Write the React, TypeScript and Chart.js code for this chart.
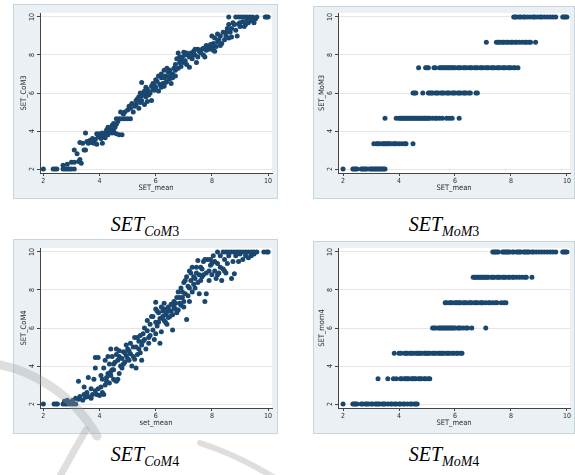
import React, { useEffect, useRef } from "react";
import { Chart, registerables } from "chart.js";
Chart.register(...registerables);

// ---------- data ----------
const xTicks = [2, 4, 6, 8, 10];
const yTicks = [2, 4, 6, 8, 10];

const com3X = [
  2.0, 2.35, 2.42, 2.48, 2.7, 2.78, 2.85, 2.92, 3.0, 3.1,
  2.7, 2.85, 3.0, 3.1, 3.25, 3.35, 3.3, 3.2, 3.1, 3.45,
  3.5, 3.3, 3.4, 3.5, 3.6, 3.7, 3.8, 3.9, 3.65, 3.75,
  3.85, 3.9, 4.0, 4.1, 3.95, 4.05, 4.15, 4.2, 4.3, 4.35,
  4.25, 4.4, 4.45, 4.55, 4.5, 4.6, 4.7, 4.8, 4.6, 4.1,
  4.6, 4.7, 4.8, 4.9, 5.0, 5.1, 4.75, 4.9, 5.0, 5.1,
  5.2, 5.25, 5.3, 5.4, 5.45, 5.35, 5.5, 5.6, 5.65, 5.7,
  5.75, 5.5, 5.45, 5.55, 5.65, 5.8, 5.85, 5.9, 5.95, 6.0,
  6.05, 6.1, 6.15, 6.2, 6.25, 6.3, 6.35, 6.4, 6.45, 6.5,
  6.55, 6.6, 6.65, 6.7, 6.3, 6.4, 6.2, 6.7, 6.75, 6.8,
  6.85, 6.9, 6.95, 7.0, 7.05, 7.1, 7.15, 7.2, 7.3, 7.35,
  7.4, 7.45, 7.5, 7.6, 7.7, 7.75, 7.8, 7.9, 8.0, 8.05,
  8.1, 8.2, 8.0, 8.1, 8.2, 8.3, 8.35, 8.4, 8.45, 8.5,
  8.55, 8.6, 8.65, 8.7, 8.8, 8.9, 8.95, 9.0, 9.1, 9.2,
  9.3, 9.4, 9.5, 9.55, 8.6, 8.85, 8.95, 9.05, 9.15, 9.25,
  9.35, 9.45, 9.6, 9.9, 9.95, 10.0,
  5.9, 6.0, 6.1, 6.2, 6.3, 6.35, 6.45, 6.5, 6.55, 6.6,
  6.7, 6.8, 6.85, 6.9, 7.0, 7.05, 7.1, 7.2, 7.25, 7.3,
  7.4, 7.5, 7.55, 7.65, 7.7, 7.8, 7.85, 7.95, 8.05, 8.15,
  8.25, 8.3, 8.5, 8.6, 8.7, 8.75, 8.85, 9.0, 9.15, 9.25,
  4.3, 4.45, 4.5, 4.65, 4.85, 5.05, 5.15, 5.3, 5.4, 5.5,
  5.6, 5.65, 5.7, 5.75, 5.85, 5.95, 3.55, 3.75, 4.0, 4.2,
];
const com3Y = [
  2, 2, 2, 2, 2, 2, 2, 2, 2, 2,
  2.2, 2.25, 2.35, 2.35, 2.4, 2.3, 2.5, 2.8, 3.0, 3.0,
  3.0, 3.4, 3.35, 3.9, 3.35, 3.4, 3.35, 3.3, 3.5, 3.6,
  3.55, 3.85, 3.85, 3.9, 3.7, 3.6, 3.75, 3.65, 3.8, 3.95,
  4.05, 4.1, 4.3, 4.2, 4.0, 4.35, 3.8, 3.8, 3.85, 3.35,
  4.65, 4.65, 4.65, 4.65, 4.65, 4.65, 5.0, 5.0, 5.1, 5.2,
  5.0, 5.3, 5.4, 5.2, 5.5, 5.7, 5.6, 5.4, 5.8, 5.55,
  5.9, 6.55, 6.0, 6.0, 6.0, 6.0, 5.6, 6.2, 6.4, 6.3,
  6.6, 6.1, 6.45, 6.8, 6.5, 6.35, 6.9, 6.6, 7.1, 6.75,
  6.5, 7.0, 7.3, 6.9, 7.2, 7.3, 7.0, 7.5, 7.8, 8.1,
  7.6, 7.4, 7.9, 8.15, 7.7, 7.5, 8.0, 7.35, 7.8, 8.2,
  8.0, 7.6, 8.3, 8.1, 8.35, 7.9, 8.5, 8.3, 8.4, 8.6,
  8.2, 8.7, 9.0, 8.9, 9.1, 9.0, 8.6, 9.2, 8.8, 9.0,
  9.4, 9.6, 9.2, 8.95, 9.6, 9.0, 9.65, 9.5, 9.75, 9.6,
  9.7, 9.8, 9.7, 9.9, 10, 10, 10, 10, 10, 10,
  10, 10, 10, 10, 10, 10,
  6.5, 6.7, 6.9, 6.3, 6.8, 6.55, 6.85, 7.2, 7.0, 6.8,
  7.2, 7.3, 7.9, 7.7, 7.6, 8.0, 8.1, 7.9, 8.1, 8.0,
  8.3, 7.9, 8.2, 8.3, 8.0, 8.25, 8.4, 8.55, 8.25, 8.45,
  8.8, 8.5, 9.2, 8.9, 9.4, 9.7, 9.3, 9.7, 9.5, 9.85,
  4.2, 3.9, 4.4, 4.5, 4.9, 5.3, 5.45, 5.6, 5.8, 5.85,
  6.1, 6.3, 6.2, 6.05, 6.35, 6.15, 3.45, 3.5, 3.7, 3.9,
];

const com4X = [
  2.0, 2.38, 2.45, 2.5, 2.7, 2.78, 2.85, 2.95, 3.05, 3.15,
  2.75, 2.85, 2.95, 3.05, 3.15, 3.25, 3.3, 3.4, 3.45, 3.5,
  3.55, 3.6, 3.25, 3.45, 3.6, 3.7, 3.75, 3.85, 3.8, 3.85,
  3.85, 3.95, 3.9, 4.0, 4.05, 4.1, 4.15, 4.2, 4.1, 4.25,
  4.3, 4.35, 4.4, 4.45, 4.2, 4.3, 4.35, 4.15, 4.5, 4.55,
  4.6, 4.65, 4.5, 4.55, 4.6, 4.45, 4.4, 4.6, 4.7, 4.75,
  4.8, 4.85, 4.9, 4.95, 4.7, 4.8, 5.0, 5.05, 5.1, 5.15,
  5.2, 5.25, 5.3, 5.35, 5.4, 5.45, 5.5, 5.55, 5.35, 5.5,
  5.6, 5.65, 5.7, 5.75, 5.8, 5.8, 5.85, 5.9, 5.95, 6.0,
  6.0, 6.0, 6.05, 6.1, 6.15, 6.15, 6.2, 6.2, 6.25, 6.3,
  6.3, 6.35, 6.4, 6.4, 6.45, 6.5, 6.55, 6.6, 6.6, 6.65,
  6.7, 6.75, 6.8, 6.8, 6.85, 6.9, 6.95, 7.0, 7.0, 7.05,
  7.1, 7.1, 7.15, 7.2, 7.2, 7.25, 7.3, 7.3, 7.35, 7.4,
  7.45, 7.5, 7.5, 7.55, 7.6, 7.65, 7.7, 7.75, 7.8, 7.8,
  7.85, 7.9, 7.95, 8.0, 8.05, 8.1, 8.15, 8.2, 8.25, 8.3,
  8.35, 8.4, 8.45, 8.5, 8.55, 8.6, 8.7, 8.75, 8.8, 8.85,
  8.95, 9.0, 9.1, 9.2, 9.3, 9.4, 9.5, 8.2, 8.4, 8.5,
  8.6, 8.7, 8.8, 8.9, 9.0, 9.1, 9.2, 9.3, 9.4, 9.5,
  9.6, 9.85, 9.95, 10.0,
  5.6, 5.7, 5.75, 5.9, 6.0, 6.05, 6.1, 6.25, 6.3, 6.35,
  6.4, 6.45, 6.5, 6.55, 6.65, 6.7, 6.75, 6.85, 6.9, 6.95,
  7.0, 7.05, 7.15, 7.2, 7.25, 7.35, 7.4, 7.45, 7.55, 7.6,
  7.65, 7.7, 7.75, 7.9, 7.95, 8.0, 8.1, 8.2, 8.3, 8.45,
  4.95, 5.0, 5.05, 5.1, 5.2, 5.25, 5.3, 5.4, 5.45, 5.55,
  3.7, 3.95, 4.05, 4.25, 4.4, 4.5, 4.65, 4.7, 4.85, 4.9,
];
const com4Y = [
  2, 2, 2, 2, 2, 2, 2, 2, 2, 2,
  2.15, 2.2, 2.1, 2.2, 2.3, 2.25, 2.4, 2.2, 2.5, 2.35,
  2.6, 2.4, 3.2, 2.9, 3.4, 2.8, 2.5, 2.7, 3.3, 3.9,
  4.45, 4.45, 2.5, 2.45, 2.9, 2.6, 2.5, 3.0, 3.3, 3.2,
  3.6, 3.1, 3.5, 3.8, 4.3, 4.5, 4.1, 3.9, 3.3, 3.25,
  3.2, 3.3, 3.8, 4.2, 4.6, 4.5, 4.9, 4.9, 4.8, 4.0,
  4.4, 4.75, 4.2, 4.55, 3.6, 3.9, 4.9, 4.3, 4.65, 4.0,
  5.0, 4.35, 3.9, 4.6, 5.3, 4.7, 5.1, 5.7, 5.5, 4.3,
  5.4, 4.9, 5.85, 5.2, 6.2, 5.6, 6.6, 5.9, 5.4, 6.3,
  7.0, 7.35, 6.1, 6.8, 5.2, 6.5, 7.1, 5.8, 6.9, 6.4,
  7.3, 6.7, 6.2, 7.0, 6.55, 6.9, 7.25, 6.7, 5.9, 7.4,
  7.0, 7.6, 6.95, 7.9, 7.3, 8.1, 7.6, 8.4, 7.1, 7.8,
  8.7, 6.45, 8.2, 7.4, 9.0, 8.5, 7.9, 9.2, 8.7, 8.1,
  8.9, 9.55, 8.4, 7.8, 9.2, 8.7, 9.5, 7.4, 7.8, 8.9,
  9.6, 8.5, 9.3, 8.8, 9.8, 9.0, 8.6, 9.4, 8.9, 9.8,
  8.5, 9.1, 9.6, 8.9, 9.4, 9.8, 8.6, 9.5, 8.85, 9.8,
  9.5, 9.9, 9.6, 9.8, 9.7, 9.8, 9.9, 10, 10, 10,
  10, 10, 10, 10, 10, 10, 10, 10, 10, 10,
  10, 10, 10, 10,
  6.0, 6.4, 5.5, 6.6, 5.7, 6.9, 6.3, 6.6, 7.0, 6.3,
  6.85, 7.1, 6.6, 6.9, 7.1, 7.3, 6.8, 7.6, 7.2, 7.9,
  7.4, 8.5, 7.7, 8.1, 8.9, 8.3, 8.6, 9.2, 8.8, 8.5,
  9.1, 8.8, 9.6, 9.0, 9.6, 9.4, 9.5, 8.8, 9.2, 9.0,
  5.1, 4.4, 4.8, 5.2, 4.5, 5.5, 5.0, 4.9, 5.6, 5.3,
  2.3, 2.8, 3.5, 3.4, 3.7, 4.1, 4.3, 4.5, 4.1, 4.7,
];

// discrete levels of the MoM scores
const momLevels = [2, 3.333, 4.667, 6, 7.333, 8.667, 10];

// SET_MoM3: x (SET_mean) values observed at each level
const mom3L2 = [2.0, 2.35, 2.4, 2.45, 2.5, 2.65, 2.7, 2.75, 2.8, 2.85, 2.95, 3.0, 3.05, 3.1, 3.15, 3.2, 3.25, 3.3, 3.35, 3.4, 3.45, 3.5];
const mom3L3 = [3.1, 3.2, 3.25, 3.3, 3.4, 3.45, 3.5, 3.55, 3.6, 3.65, 3.7, 3.8, 3.85, 3.9, 4.0, 4.1, 4.2, 4.25, 4.5];
const mom3L4 = [3.5, 3.9, 4.0, 4.05, 4.1, 4.15, 4.2, 4.25, 4.3, 4.35, 4.4, 4.45, 4.5, 4.55, 4.6, 4.65, 4.7, 4.75, 4.8, 4.85, 4.9, 4.95, 5.0, 5.05, 5.1, 5.2, 5.3, 5.35, 5.45, 5.55, 5.7, 5.8, 5.9, 6.15];
const mom3L6 = [4.5, 4.55, 4.6, 4.85, 5.05, 5.1, 5.15, 5.2, 5.3, 5.35, 5.4, 5.5, 5.55, 5.6, 5.7, 5.75, 5.8, 5.9, 5.95, 6.0, 6.1, 6.15, 6.2, 6.3, 6.35, 6.4, 6.5, 6.55, 6.75, 6.8];
const mom3L7 = [4.7, 4.95, 5.0, 5.05, 5.25, 5.3, 5.45, 5.5, 5.55, 5.6, 5.65, 5.7, 5.75, 5.8, 5.85, 5.9, 5.95, 6.0, 6.1, 6.15, 6.2, 6.3, 6.35, 6.4, 6.5, 6.55, 6.6, 6.7, 6.75, 6.8, 6.9, 6.95, 7.0, 7.1, 7.15, 7.2, 7.3, 7.35, 7.4, 7.5, 7.55, 7.6, 7.7, 7.75, 7.8, 7.9, 7.95, 8.0, 8.1, 8.15, 8.25];
const mom3L8 = [7.12, 7.48, 7.55, 7.6, 7.7, 7.75, 7.85, 7.9, 8.0, 8.05, 8.15, 8.2, 8.3, 8.4, 8.5, 8.55, 8.65, 8.7, 8.88];
const mom3L10 = [8.1, 8.15, 8.2, 8.3, 8.35, 8.45, 8.5, 8.6, 8.7, 8.8, 8.85, 8.95, 9.05, 9.1, 9.2, 9.3, 9.4, 9.5, 9.6, 9.85, 9.9, 9.95, 10.0];

// SET_mom4
const mom4L2 = [2.0, 2.35, 2.4, 2.45, 2.5, 2.65, 2.7, 2.8, 2.85, 2.9, 3.0, 3.05, 3.15, 3.2, 3.25, 3.3, 3.4, 3.45, 3.5, 3.6, 3.7, 3.75, 3.85, 3.9, 4.0, 4.05, 4.15, 4.2, 4.3, 4.4, 4.45, 4.55, 4.6, 4.65];
const mom4L3 = [3.25, 3.6, 3.8, 3.9, 4.05, 4.1, 4.2, 4.25, 4.3, 4.35, 4.45, 4.5, 4.55, 4.6, 4.7, 4.75, 4.8, 4.9, 4.95, 5.05, 5.1];
const mom4L4 = [3.83, 4.0, 4.07, 4.2, 4.25, 4.3, 4.4, 4.45, 4.5, 4.6, 4.65, 4.7, 4.75, 4.8, 4.9, 4.95, 5.0, 5.05, 5.1, 5.2, 5.25, 5.3, 5.4, 5.45, 5.5, 5.55, 5.6, 5.7, 5.75, 5.8, 5.9, 5.95, 6.05, 6.1, 6.2, 6.25];
const mom4L6 = [5.2, 5.25, 5.3, 5.4, 5.45, 5.5, 5.55, 5.6, 5.65, 5.7, 5.75, 5.8, 5.85, 5.9, 5.95, 6.0, 6.1, 6.15, 6.2, 6.3, 6.4, 6.45, 6.6, 7.1];
const mom4L7 = [5.65, 5.7, 5.8, 5.85, 5.9, 6.0, 6.05, 6.1, 6.15, 6.2, 6.3, 6.35, 6.4, 6.5, 6.55, 6.6, 6.7, 6.75, 6.8, 6.9, 6.95, 7.0, 7.1, 7.2, 7.25, 7.35, 7.45, 7.5, 7.65, 7.75, 7.82];
const mom4L8 = [6.65, 6.7, 6.75, 6.8, 6.85, 6.9, 6.95, 7.0, 7.05, 7.1, 7.15, 7.2, 7.3, 7.35, 7.4, 7.5, 7.55, 7.6, 7.7, 7.75, 7.8, 7.9, 7.95, 8.05, 8.1, 8.2, 8.3, 8.4, 8.5, 8.55, 8.75];
const mom4L10 = [7.35, 7.4, 7.45, 7.5, 7.55, 7.7, 7.75, 7.8, 7.85, 7.9, 7.95, 8.05, 8.1, 8.2, 8.25, 8.3, 8.35, 8.45, 8.5, 8.55, 8.6, 8.65, 8.75, 8.8, 8.9, 9.0, 9.1, 9.2, 9.3, 9.4, 9.5, 9.6, 9.85, 9.9, 9.95, 10.0];

// ---------- helpers ----------
type Pt = { x: number; y: number };
const pairs = (xs: number[], ys: number[]): Pt[] => xs.map((x, i) => ({ x, y: ys[i] }));
const levelRows = (rows: number[][]): Pt[] =>
  rows.flatMap((xs, i) => xs.map((x) => ({ x, y: momLevels[i] })));

const DOT = "#1a476f";
const PANEL_BG = "#eaf0f3";
const PANEL_BORDER = "#c8d5dc";
const TXT = "#2b2b2b";
const SANS = '"Liberation Sans Narrow", "DejaVu Sans Condensed", "Liberation Sans", sans-serif';

type PanelCfg = {
  left: number; top: number; w: number; h: number;
  yAxisW: number; padTop: number; padRight: number; xAxisH: number;
  xMin: number; xMax: number; yMin: number; yMax: number;
  xTitle: string; yTitle: string; yTitlePad: number;
  data: Pt[];
};

const panels: PanelCfg[] = [
  {
    left: 13, top: 4, w: 265, h: 195, yAxisW: 27, padTop: 9, padRight: 6, xAxisH: 26,
    xMin: 1.88, xMax: 10.14, yMin: 1.79, yMax: 10.21,
    xTitle: "SET_mean", yTitle: "SET_CoM3", yTitlePad: 7, data: pairs(com3X, com3Y),
  },
  {
    left: 313, top: 6, w: 262, h: 193, yAxisW: 25, padTop: 7, padRight: 5, xAxisH: 26,
    xMin: 1.82, xMax: 10.11, yMin: 1.79, yMax: 10.21,
    xTitle: "SET_mean", yTitle: "SET_MoM3", yTitlePad: 5,
    data: levelRows([mom3L2, mom3L3, mom3L4, mom3L6, mom3L7, mom3L8, mom3L10]),
  },
  {
    left: 13, top: 239, w: 265, h: 195, yAxisW: 27, padTop: 9, padRight: 6, xAxisH: 26,
    xMin: 1.88, xMax: 10.14, yMin: 1.79, yMax: 10.21,
    xTitle: "set_mean", yTitle: "SET_CoM4", yTitlePad: 7, data: pairs(com4X, com4Y),
  },
  {
    left: 313, top: 241, w: 262, h: 193, yAxisW: 25, padTop: 7, padRight: 5, xAxisH: 26,
    xMin: 1.82, xMax: 10.11, yMin: 1.79, yMax: 10.21,
    xTitle: "SET_mean", yTitle: "SET_mom4", yTitlePad: 5,
    data: levelRows([mom4L2, mom4L3, mom4L4, mom4L6, mom4L7, mom4L8, mom4L10]),
  },
];

const plotBgPlugin = {
  id: "plotBg",
  beforeDraw(chart: any) {
    const { ctx, chartArea: a } = chart;
    ctx.save();
    ctx.fillStyle = "#ffffff";
    ctx.fillRect(a.left, a.top, a.right - a.left, a.bottom - a.top);
    ctx.restore();
  },
};

const yTickPlugin = {
  id: "yTickRot",
  afterDraw(chart: any) {
    const { ctx, chartArea: a } = chart;
    const ys = chart.scales.y;
    ctx.save();
    ctx.fillStyle = TXT;
    ctx.font = `7px ${SANS}`;
    ctx.textAlign = "center";
    ctx.textBaseline = "middle";
    for (const t of ys.ticks) {
      const py = ys.getPixelForValue(t.value);
      ctx.save();
      ctx.translate(a.left - 8, py);
      ctx.rotate(-Math.PI / 2);
      ctx.fillText(String(t.value), 0, 0);
      ctx.restore();
    }
    ctx.restore();
  },
};

function Panel({ cfg }: { cfg: PanelCfg }) {
  const ref = useRef<HTMLCanvasElement>(null);
  useEffect(() => {
    const chart = new Chart(ref.current as HTMLCanvasElement, {
      type: "scatter",
      data: {
        datasets: [
          {
            data: cfg.data,
            backgroundColor: DOT,
            borderColor: DOT,
            borderWidth: 0,
            pointRadius: 2.5,
            pointHoverRadius: 2.5,
          },
        ],
      },
      options: {
        responsive: false,
        animation: false,
        devicePixelRatio: 1,
        events: [],
        layout: { padding: { left: 0, top: cfg.padTop, right: cfg.padRight, bottom: 0 } },
        plugins: { legend: { display: false }, tooltip: { enabled: false } },
        scales: {
          x: {
            type: "linear",
            min: cfg.xMin,
            max: cfg.xMax,
            afterBuildTicks: (s: any) => {
              s.ticks = xTicks.map((v) => ({ value: v }));
            },
            afterFit: (s: any) => {
              s.height = cfg.xAxisH;
            },
            grid: { drawOnChartArea: false, drawTicks: true, tickLength: 3, tickColor: "#444", tickWidth: 1 },
            border: { color: "#444", width: 1 },
            ticks: {
              color: TXT,
              font: { family: SANS, size: 7 },
              padding: 1,
              maxRotation: 0,
              autoSkip: false,
              callback: (v: any) => String(v),
            },
            title: {
              display: true,
              text: cfg.xTitle,
              color: TXT,
              font: { family: SANS, size: 7.5 },
              padding: { top: 0, bottom: 6 },
            },
          },
          y: {
            type: "linear",
            min: cfg.yMin,
            max: cfg.yMax,
            afterBuildTicks: (s: any) => {
              s.ticks = yTicks.map((v) => ({ value: v }));
            },
            afterFit: (s: any) => {
              s.width = cfg.yAxisW;
            },
            grid: { color: "#e6e6e6", lineWidth: 1, drawTicks: true, tickLength: 3, tickColor: "#444", tickWidth: 1 },
            border: { color: "#444", width: 1 },
            ticks: { display: false },
            title: {
              display: true,
              text: cfg.yTitle,
              color: TXT,
              font: { family: SANS, size: 7.5 },
              padding: { top: cfg.yTitlePad, bottom: 0 },
            },
          },
        },
      } as any,
      plugins: [plotBgPlugin, yTickPlugin],
    });
    return () => chart.destroy();
  }, [cfg]);
  return (
    <>
      <div
        style={{
          position: "absolute",
          left: cfg.left,
          top: cfg.top,
          width: cfg.w,
          height: cfg.h,
          background: PANEL_BG,
          border: `1px solid ${PANEL_BORDER}`,
          boxSizing: "border-box",
        }}
      />
      <canvas
        ref={ref}
        width={cfg.w}
        height={cfg.h}
        style={{ position: "absolute", left: cfg.left, top: cfg.top, width: cfg.w, height: cfg.h }}
      />
    </>
  );
}

const captionStyle: React.CSSProperties = {
  position: "absolute",
  transform: "translateX(-50%)",
  fontFamily: '"Liberation Serif", "Times New Roman", serif',
  fontSize: 20,
  lineHeight: 1,
  fontStyle: "italic",
  whiteSpace: "nowrap",
  color: "#000",
};

function Caption({ x, y, sub, num }: { x: number; y: number; sub: string; num: string }) {
  return (
    <div style={{ ...captionStyle, left: x, top: y }}>
      SET
      <span style={{ fontSize: 14, position: "relative", top: 5 }}>
        {sub}
        <span style={{ fontStyle: "normal" }}>{num}</span>
      </span>
    </div>
  );
}

export default function App() {
  return (
    <div
      style={{
        position: "absolute",
        left: 0,
        top: 0,
        width: 575,
        height: 475,
        background: "#ffffff",
        overflow: "hidden",
      }}
    >
      {panels.map((p, i) => (
        <Panel key={i} cfg={p} />
      ))}
      <Caption x={145} y={214} sub="CoM" num="3" />
      <Caption x={444} y={214} sub="MoM" num="3" />
      <Caption x={145} y={444} sub="CoM" num="4" />
      <Caption x={444} y={444} sub="MoM" num="4" />
      <svg
        width={575}
        height={475}
        style={{ position: "absolute", left: 0, top: 0, pointerEvents: "none" }}
      >
        <g fill="none" stroke="#9a9a9a" strokeOpacity={0.33} strokeLinecap="round">
          <path d="M -4 364 C 30 370, 72 392, 97 436" strokeWidth={9} />
          <path d="M 86 430 Q 72 454 58 480" strokeWidth={7} />
          <path d="M 200 443 Q 240 456 278 480" strokeWidth={6} />
        </g>
      </svg>
    </div>
  );
}
